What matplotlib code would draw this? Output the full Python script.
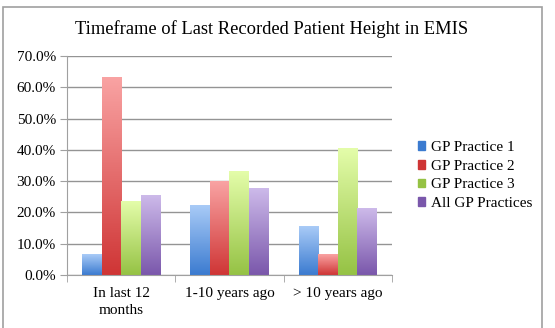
import numpy as np
import matplotlib
matplotlib.use("Agg")
import matplotlib.pyplot as plt
from matplotlib.colors import LinearSegmentedColormap
from matplotlib.patches import Rectangle

categories = ["In last 12\nmonths", "1-10 years ago", "> 10 years ago"]
series = ["GP Practice 1", "GP Practice 2", "GP Practice 3", "All GP Practices"]
practice_1 = [6.7, 22.3, 15.4]
practice_2 = [63.1, 30.0, 6.6]
practice_3 = [23.6, 33.1, 40.4]
all_practices = [25.3, 27.6, 21.4]
values = [practice_1, practice_2, practice_3, all_practices]

# (dark bottom, light top) for the gradient fill
colours = [("#3b7bd0", "#a9cbf7"),
           ("#cf3535", "#f9a3a3"),
           ("#95c244", "#e4fdaa"),
           ("#7a57ab", "#cdbaea")]

plt.rcParams['font.family'] = ['Liberation Serif', 'DejaVu Serif']

fig = plt.figure(figsize=(5.55, 3.28), dpi=100)
ax = fig.add_axes([0.1207, 0.1616, 0.5856, 0.6677])

x = np.arange(len(categories))
n = len(series)
w = 0.72 / n
grad = np.linspace(0, 1, 256).reshape(-1, 1)

for i, (name, vals) in enumerate(zip(series, values)):
    bars = ax.bar(x - 0.36 + w * (i + 0.5), vals, w, color=colours[i][0],
                  label=name, zorder=2)
    cmap = LinearSegmentedColormap.from_list(name, colours[i])
    for b in bars:
        b.set_facecolor("none")
        x0, h, bw = b.get_x(), b.get_height(), b.get_width()
        ax.imshow(grad, cmap=cmap, origin="lower", aspect="auto",
                  extent=(x0, x0 + bw, 0, h), zorder=2)

ax.set_xlim(-0.5, 2.5)
ax.set_ylim(0, 70)
ax.set_yticks(np.arange(0, 71, 10))
ax.set_yticklabels([f"{v:.1f}%" for v in np.arange(0, 71, 10)], fontsize=11)
ax.set_xticks(x)
ax.set_xticklabels(categories, fontsize=11, linespacing=1.4)
ax.set_xticks([-0.5, 0.5, 1.5, 2.5], minor=True)
ax.tick_params(axis="x", which="major", length=0, pad=9)
ax.tick_params(axis="x", which="minor", length=5, color="#a0a0a0", direction="out")
ax.tick_params(axis="y", length=5, color="#a0a0a0", pad=3)
ax.grid(axis="y", color="#949494", lw=1, zorder=0)
for s in ["top", "right"]:
    ax.spines[s].set_visible(False)
for s in ["left", "bottom"]:
    ax.spines[s].set_color("#a0a0a0")

handles = [Rectangle((0, 0), 1, 1, color=c[0]) for c in colours]
fig.legend(handles, series, loc="upper left", bbox_to_anchor=(0.728, 0.612),
           frameon=False, fontsize=11, handlelength=0.5, handleheight=0.5,
           handletextpad=0.35, labelspacing=0.37)

fig.text(0.49, 1 - 29 / 328, "Timeframe of Last Recorded Patient Height in EMIS",
         ha="center", va="center", fontsize=13.3)

fig.patches.append(Rectangle((0.005, -0.01), 0.971, 0.989, transform=fig.transFigure,
                             fill=False, edgecolor="#a0a0a0", lw=1.2))

fig.savefig("out.png", dpi=100)
